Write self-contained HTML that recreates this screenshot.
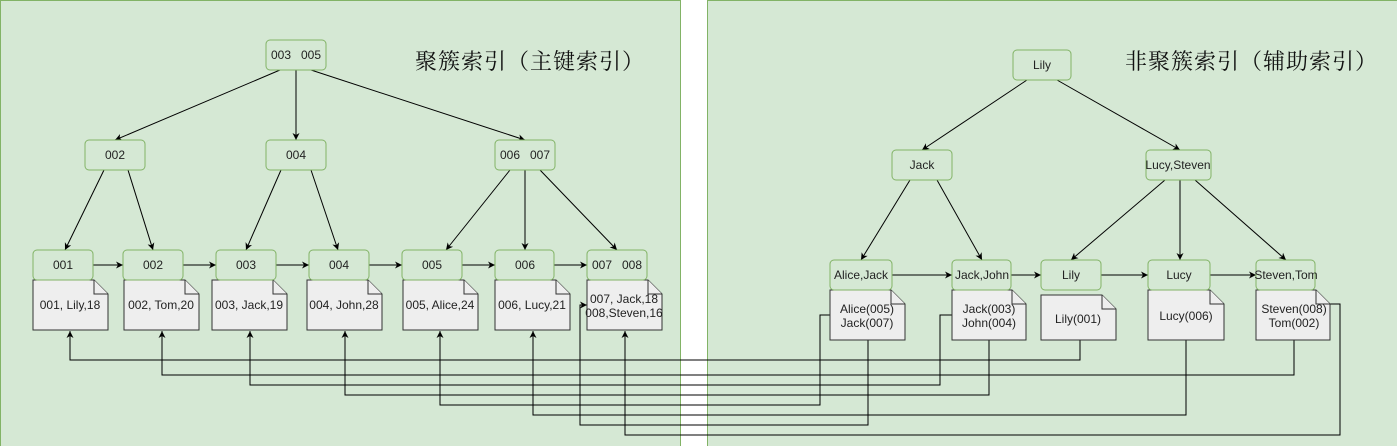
<!DOCTYPE html>
<html><head><meta charset="utf-8"><style>
html,body{margin:0;padding:0;background:#fff;}
svg{display:block}
text{font-family:"Liberation Sans","Noto Sans CJK SC",sans-serif;font-size:12px;fill:#222}
.t{font-family:"Liberation Serif","Noto Serif CJK SC",serif;font-size:22px;fill:#111;letter-spacing:1px}
.n{fill:#d5e8d4;stroke:#82b366;stroke-width:1}
.d{fill:#eeeeee;stroke:#333;stroke-width:1}
.e{stroke:#000;stroke-width:1;fill:none}
</style></head><body>
<svg width="1397" height="446" viewBox="0 0 1397 446" xmlns="http://www.w3.org/2000/svg">
<defs><marker id="a" markerWidth="8" markerHeight="8" refX="7" refY="4" orient="auto" markerUnits="userSpaceOnUse"><path d="M0,0.5 L7,4 L0,7.5 L2,4 Z" fill="#000"/></marker></defs>
<rect x="0.5" y="0.5" width="680" height="446" fill="#d5e8d4" stroke="#82b366"/>
<rect x="707.5" y="0.5" width="690" height="446" fill="#d5e8d4" stroke="#82b366"/>
<text class="t" x="415" y="69">聚簇索引（主键索引）</text>
<text class="t" x="1125" y="69">非聚簇索引（辅助索引）</text>

<g class="e" marker-end="url(#a)">
<line x1="280" y1="70" x2="115" y2="140"/>
<line x1="296" y1="70" x2="296" y2="140"/>
<line x1="311" y1="70" x2="525" y2="140"/>
<line x1="104" y1="170" x2="65" y2="250"/>
<line x1="128" y1="170" x2="153" y2="250"/>
<line x1="281" y1="170" x2="246" y2="250"/>
<line x1="311" y1="170" x2="338" y2="250"/>
<line x1="510" y1="170" x2="446" y2="250"/>
<line x1="525" y1="170" x2="525" y2="250"/>
<line x1="540" y1="170" x2="617" y2="250"/>
<line x1="93" y1="265" x2="123" y2="265"/>
<line x1="183" y1="265" x2="216" y2="265"/>
<line x1="276" y1="265" x2="309" y2="265"/>
<line x1="369" y1="265" x2="402" y2="265"/>
<line x1="462" y1="265" x2="495" y2="265"/>
<line x1="554" y1="265" x2="587" y2="265"/>
<line x1="1027" y1="80" x2="922" y2="150"/>
<line x1="1057" y1="80" x2="1180" y2="150"/>
<line x1="910" y1="180" x2="861" y2="260"/>
<line x1="937" y1="180" x2="982" y2="260"/>
<line x1="1165" y1="180" x2="1071" y2="260"/>
<line x1="1180" y1="180" x2="1180" y2="260"/>
<line x1="1195" y1="180" x2="1286" y2="260"/>
<line x1="892" y1="275" x2="952" y2="275"/>
<line x1="1011" y1="275" x2="1041" y2="275"/>
<line x1="1101" y1="275" x2="1148" y2="275"/>
<line x1="1210" y1="275" x2="1256" y2="275"/>
<polyline points="1080,340 1080,360 70,360 70,331"/>
<polyline points="1294,340 1294,375 162,375 162,331"/>
<polyline points="952,315 940,315 940,385 250,385 250,331"/>
<polyline points="989,340 989,395 345,395 345,331"/>
<polyline points="830,315 820,315 820,405 440,405 440,331"/>
<polyline points="1186,340 1186,415 533,415 533,331"/>
<polyline points="868,340 868,425 580,425 580,305 587,305"/>
<polyline points="1330,304 1340,304 1340,435 625,435 625,331"/>
</g>

<g>
<rect class="n" x="266" y="40" width="60" height="30" rx="4"/><text x="296" y="59" text-anchor="middle" xml:space="preserve">003   005</text>
<rect class="n" x="85" y="140" width="60" height="30" rx="4"/><text x="115" y="159" text-anchor="middle">002</text>
<rect class="n" x="266" y="140" width="60" height="30" rx="4"/><text x="296" y="159" text-anchor="middle">004</text>
<rect class="n" x="495" y="140" width="60" height="30" rx="4"/><text x="525" y="159" text-anchor="middle" xml:space="preserve">006   007</text>
</g>

<g>
<path class="d" d="M33,280 H94 L108,294 V330 H33 Z"/><path class="d" d="M94,280 V294 H108"/>
<path class="d" d="M124,280 H185 L199,294 V330 H124 Z"/><path class="d" d="M185,280 V294 H199"/>
<path class="d" d="M212,280 H273 L287,294 V330 H212 Z"/><path class="d" d="M273,280 V294 H287"/>
<path class="d" d="M307,280 H368 L382,294 V330 H307 Z"/><path class="d" d="M368,280 V294 H382"/>
<path class="d" d="M403,280 H464 L478,294 V330 H403 Z"/><path class="d" d="M464,280 V294 H478"/>
<path class="d" d="M495,280 H556 L570,294 V330 H495 Z"/><path class="d" d="M556,280 V294 H570"/>
<path class="d" d="M587,280 H648 L662,294 V330 H587 Z"/><path class="d" d="M648,280 V294 H662"/>
<text x="70" y="309" text-anchor="middle">001, Lily,18</text>
<text x="161" y="309" text-anchor="middle">002, Tom,20</text>
<text x="249" y="309" text-anchor="middle">003, Jack,19</text>
<text x="344" y="309" text-anchor="middle">004, John,28</text>
<text x="440" y="309" text-anchor="middle">005, Alice,24</text>
<text x="532" y="309" text-anchor="middle">006, Lucy,21</text>
<text x="624" y="303" text-anchor="middle">007, Jack,18</text>
<text x="624" y="317" text-anchor="middle">008,Steven,16</text>
<rect class="n" x="33" y="250" width="60" height="30" rx="4"/><text x="63" y="269" text-anchor="middle">001</text>
<rect class="n" x="123" y="250" width="60" height="30" rx="4"/><text x="153" y="269" text-anchor="middle">002</text>
<rect class="n" x="216" y="250" width="60" height="30" rx="4"/><text x="246" y="269" text-anchor="middle">003</text>
<rect class="n" x="309" y="250" width="60" height="30" rx="4"/><text x="339" y="269" text-anchor="middle">004</text>
<rect class="n" x="402" y="250" width="60" height="30" rx="4"/><text x="432" y="269" text-anchor="middle">005</text>
<rect class="n" x="495" y="250" width="59" height="30" rx="4"/><text x="525" y="269" text-anchor="middle">006</text>
<rect class="n" x="587" y="250" width="60" height="30" rx="4"/><text x="617" y="269" text-anchor="middle" xml:space="preserve">007   008</text>
</g>

<g>
<rect class="n" x="1013" y="50" width="58" height="30" rx="4"/><text x="1042" y="69" text-anchor="middle">Lily</text>
<rect class="n" x="892" y="150" width="60" height="30" rx="4"/><text x="922" y="169" text-anchor="middle">Jack</text>
<rect class="n" x="1146" y="150" width="65" height="30" rx="4"/><text x="1178" y="169" text-anchor="middle">Lucy,Steven</text>
<path class="d" d="M830,290 H891 L905,304 V340 H830 Z"/><path class="d" d="M891,290 V304 H905"/>
<path class="d" d="M952,290 H1012 L1026,304 V340 H952 Z"/><path class="d" d="M1012,290 V304 H1026"/>
<path class="d" d="M1041,295 H1102 L1116,309 V340 H1041 Z"/><path class="d" d="M1102,295 V309 H1116"/>
<path class="d" d="M1148,290 H1210 L1224,304 V340 H1148 Z"/><path class="d" d="M1210,290 V304 H1224"/>
<path class="d" d="M1256,290 H1316 L1330,304 V340 H1256 Z"/><path class="d" d="M1316,290 V304 H1330"/>
<text x="867" y="313" text-anchor="middle">Alice(005)</text>
<text x="867" y="327" text-anchor="middle">Jack(007)</text>
<text x="989" y="313" text-anchor="middle">Jack(003)</text>
<text x="989" y="327" text-anchor="middle">John(004)</text>
<text x="1078" y="323" text-anchor="middle">Lily(001)</text>
<text x="1186" y="320" text-anchor="middle">Lucy(006)</text>
<text x="1294" y="313" text-anchor="middle">Steven(008)</text>
<text x="1294" y="327" text-anchor="middle">Tom(002)</text>
<rect class="n" x="830" y="260" width="62" height="30" rx="4"/><text x="861" y="279" text-anchor="middle">Alice,Jack</text>
<rect class="n" x="952" y="260" width="59" height="30" rx="4"/><text x="982" y="279" text-anchor="middle">Jack,John</text>
<rect class="n" x="1041" y="260" width="60" height="30" rx="4"/><text x="1071" y="279" text-anchor="middle">Lily</text>
<rect class="n" x="1148" y="260" width="62" height="30" rx="4"/><text x="1179" y="279" text-anchor="middle">Lucy</text>
<rect class="n" x="1256" y="260" width="59" height="30" rx="4"/><text x="1286" y="279" text-anchor="middle">Steven,Tom</text>
</g>
</svg>
</body></html>
